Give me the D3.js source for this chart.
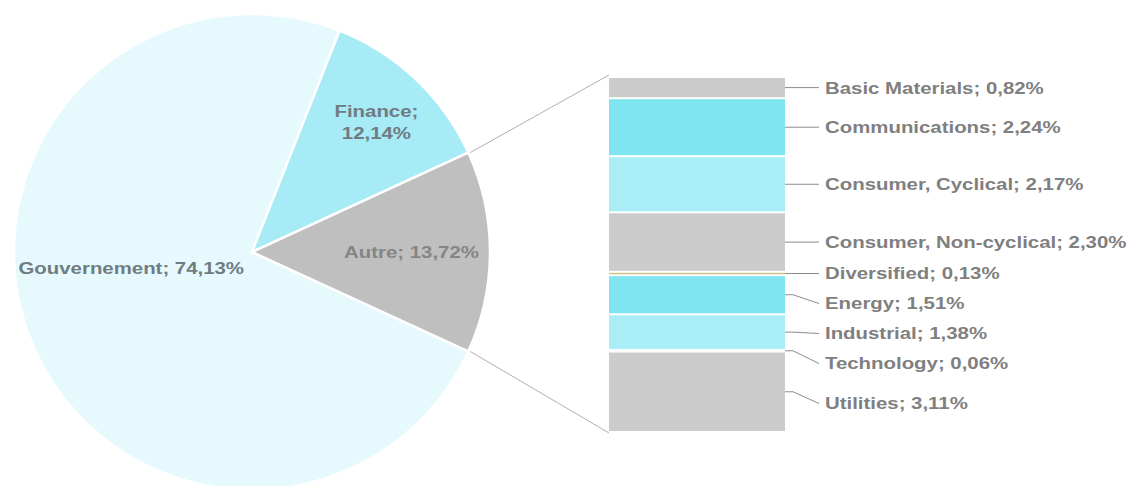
<!DOCTYPE html>
<html>
<head>
<meta charset="utf-8">
<script src="https://cdn.jsdelivr.net/npm/d3@7"></script>
<style>
  body { margin: 0; background: #fff; }
  text { font-family: 'Liberation Sans', Arial, sans-serif; font-weight: bold; }
</style>
</head>
<body>
<script>
const width = 1128
const height = 486

// Camembert principal
const mainCats = ['Gouvernement', 'Finance', 'Autre']
const mainVals = [74.13, 12.14, 13.72]
const mainColors = ['#e6f9fd', '#a6ebf5', '#bfbfbf']

// Barre de detail (Autre)
const subCats = ['Basic Materials', 'Communications', 'Consumer, Cyclical', 'Consumer, Non-cyclical',
  'Diversified', 'Energy', 'Industrial', 'Technology', 'Utilities']
const subVals = [0.82, 2.24, 2.17, 2.30, 0.13, 1.51, 1.38, 0.06, 3.11]
const subColors = ['#cccccc', '#7fe5f1', '#a9eef6', '#cccccc', '#c9bf7e', '#7fe5f1', '#a9eef6', '#cccccc', '#cccccc']

const fmt = v => d3.format('.2f')(v).replace('.', ',') + '%'
const stretch = 1.2 // texte etire horizontalement dans l'original

const svg = d3.select('body').append('svg').attr('width', width).attr('height', height)

/* Pie */
const cx = 252, cy = 252, R = 238
const deg = Math.PI / 180
const autreIdx = 2
const total = d3.sum(mainVals)
// Autre centre a 90 degres (a droite)
const autreMid = 90 * deg
const before = d3.sum(mainVals.slice(0, autreIdx)) / total * 2 * Math.PI
const start = autreMid - mainVals[autreIdx] / total * Math.PI - before

const pie = d3.pie().sort(null).startAngle(start).endAngle(start + 2 * Math.PI)
const arcs = pie(mainVals)
const arc = d3.arc().innerRadius(0).outerRadius(R)

const g = svg.append('g').attr('transform', `translate(${cx},${cy})`)
g.selectAll('path')
  .data(arcs)
  .join('path')
  .attr('d', arc)
  .attr('fill', (d, i) => mainColors[i])
  .attr('stroke', '#fff')
  .attr('stroke-width', 2.5)

/* Barre */
const barX = 609, barW = 176, barTop = 77, barBot = 432
const y = d3.scaleLinear().domain([0, d3.sum(subVals)]).range([barTop, barBot])
const cum = d3.cumsum(subVals)
const segs = subVals.map((v, i) => ({ name: subCats[i], v, y0: y(cum[i] - v), y1: y(cum[i]), color: subColors[i] }))

svg.selectAll('rect.seg')
  .data(segs)
  .join('rect')
  .attr('class', 'seg')
  .attr('x', barX)
  .attr('width', barW)
  .attr('y', d => d.y0 + 1)
  .attr('height', d => Math.max(0, d.y1 - d.y0 - 2))
  .attr('fill', d => d.color)

// lignes de liaison
const a0 = arcs[autreIdx].startAngle, a1 = arcs[autreIdx].endAngle
const pt = a => [cx + R * Math.sin(a), cy - R * Math.cos(a)]
const p0 = pt(a0), p1 = pt(a1)
svg.append('line').attr('x1', p0[0] + 2).attr('y1', p0[1]).attr('x2', barX).attr('y2', barTop - 2)
  .attr('stroke', '#b0b0b0').attr('stroke-width', 1)
svg.append('line').attr('x1', p1[0] + 2).attr('y1', p1[1]).attr('x2', barX).attr('y2', barBot + 1)
  .attr('stroke', '#b0b0b0').attr('stroke-width', 1)

/* Etiquettes barre avec anti-chevauchement */
const minGap = 30
const labs = segs.map(d => ({ ...d, c: (d.y0 + d.y1) / 2 }))
labs.forEach((d, i) => { d.ly = i === 0 ? d.c : Math.max(d.c, labs[i - 1].ly + minGap) })
// la derniere etiquette est decalee un peu plus bas dans l'original
labs[labs.length - 1].ly += 10
const textX = 825

svg.selectAll('path.lead')
  .data(labs)
  .join('path')
  .attr('class', 'lead')
  .attr('d', d => `M${barX + barW},${d.c}L${barX + barW + 8},${d.c}L${textX - 6},${d.ly}`)
  .attr('fill', 'none')
  .attr('stroke', '#8c8c8c')
  .attr('stroke-width', 1)

svg.selectAll('text.sub')
  .data(labs)
  .join('text')
  .attr('class', 'sub')
  .attr('transform', d => `translate(${textX},${d.ly}) scale(${stretch},1)`)
  .attr('dy', '0.35em')
  .attr('font-size', 17)
  .attr('fill', '#7f7f7f')
  .text(d => `${d.name}; ${fmt(d.v)}`)

/* Etiquettes camembert */
const labelR = [null, 0.76, 0.67]
arcs.forEach((d, i) => {
  let x, yy, anchor = 'middle'
  if (i === 0) {
    x = cx - 8; yy = cy + 16; anchor = 'end'
  } else {
    const m = (d.startAngle + d.endAngle) / 2
    x = cx + R * labelR[i] * Math.sin(m)
    yy = cy - R * labelR[i] * Math.cos(m)
  }
  const t = svg.append('text')
    .attr('transform', `translate(${x},${yy}) scale(${stretch},1)`)
    .attr('text-anchor', anchor)
    .attr('font-size', 17)
    .attr('fill', i === 2 ? '#858585' : '#707c82')
  if (i === 1) {
    t.append('tspan').attr('x', 0).attr('dy', '-0.2em').text(mainCats[i] + ';')
    t.append('tspan').attr('x', 0).attr('dy', '1.25em').text(fmt(mainVals[i]))
  } else {
    t.attr('dy', '0.35em').text(`${mainCats[i]}; ${fmt(mainVals[i])}`)
  }
})
</script>
</body>
</html>
